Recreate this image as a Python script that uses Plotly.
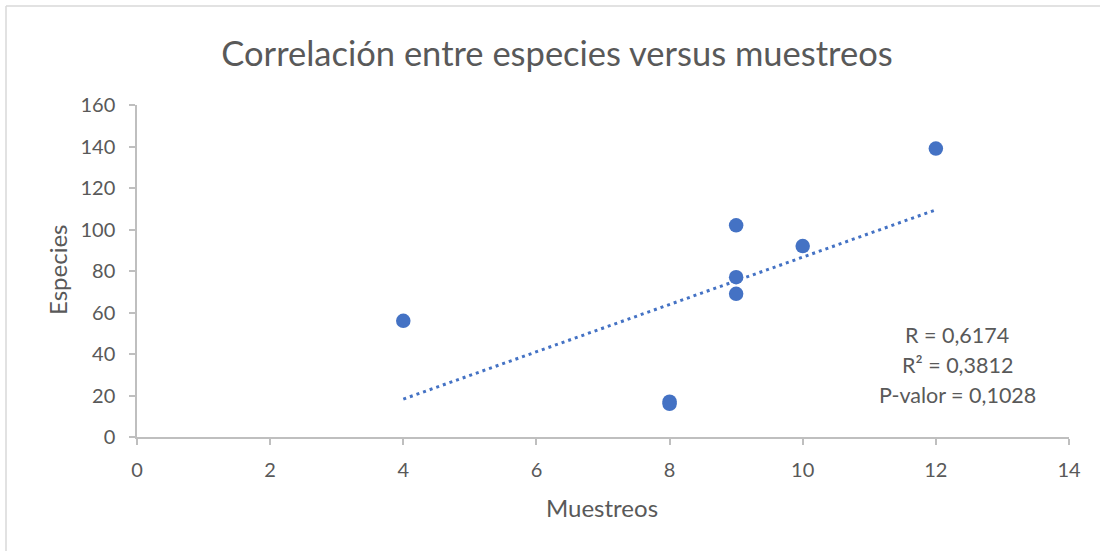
import numpy as np
import plotly.graph_objects as go

muestreos = [4, 8, 8, 9, 9, 9, 10, 12]
especies = [56, 17, 16, 102, 77, 69, 92, 139]
stats_lines = ["R = 0,6174", "R² = 0,3812", "P-valor = 0,1028"]
x_ticks = [0, 2, 4, 6, 8, 10, 12, 14]
y_ticks = [0, 20, 40, 60, 80, 100, 120, 140, 160]

# linear trendline (least squares) across the data range
slope, intercept = np.polyfit(muestreos, especies, 1)
tx = [min(muestreos), max(muestreos)]
ty = [slope * v + intercept for v in tx]

FONT = "Lato"
GRAY = "#595959"
AX = "#BFBFBF"
BLUE = "#4472C4"

W, H = 1100, 551
L, R, T, B = 137, 31, 105, 114
pw, ph = W - L - R, H - T - B

def px(xp):
    return (xp - L) / pw

def py(yp):
    return (H - B - yp) / ph

fig = go.Figure()
fig.add_trace(go.Scatter(
    x=tx, y=ty, mode="lines",
    line=dict(color=BLUE, width=3, dash="3px,4px"),
    hoverinfo="skip", showlegend=False,
))
fig.add_trace(go.Scatter(
    x=muestreos, y=especies, mode="markers",
    marker=dict(color=BLUE, size=14.5, line=dict(width=0)),
    showlegend=False,
))

annos = []
for i, t in enumerate(stats_lines):
    annos.append(dict(
        x=px(957), y=py(335 + 30 * i), xref="paper", yref="paper",
        text=t, showarrow=False, xanchor="center", yanchor="middle",
        font=dict(family=FONT, size=21.5, color=GRAY),
    ))
annos.append(dict(
    x=px(602), y=py(507), xref="paper", yref="paper", text="Muestreos",
    showarrow=False, xanchor="center", yanchor="middle",
    font=dict(family=FONT, size=24, color=GRAY),
))
annos.append(dict(
    x=px(57), y=py(270), xref="paper", yref="paper", text="Especies",
    showarrow=False, xanchor="center", yanchor="middle", textangle=-90,
    font=dict(family=FONT, size=24, color=GRAY),
))

fig.update_layout(
    width=W, height=H,
    margin=dict(l=L, r=R, t=T, b=B),
    paper_bgcolor="white", plot_bgcolor="white",
    font=dict(family=FONT, color=GRAY),
    title=dict(
        text="Correlación entre especies versus muestreos",
        xref="container", yref="container",
        x=557 / W, xanchor="center", y=1 - 54 / H, yanchor="middle",
        font=dict(family=FONT, size=34.5, color=GRAY),
    ),
    xaxis=dict(
        range=[0, 14], tickvals=x_ticks, ticktext=[str(v) for v in x_ticks],
        showgrid=False, zeroline=False, showline=True, linecolor=AX, linewidth=1.5,
        ticks="outside", ticklen=6, tickcolor=AX, tickwidth=1.5,
        ticklabelstandoff=8,
        tickfont=dict(family=FONT, size=20, color=GRAY),
    ),
    yaxis=dict(
        range=[0, 160], tickvals=y_ticks, ticktext=[str(v) for v in y_ticks],
        showgrid=False, zeroline=False, showline=True, linecolor=AX, linewidth=1.5,
        ticks="outside", ticklen=6, tickcolor=AX, tickwidth=1.5,
        ticklabelstandoff=10,
        tickfont=dict(family=FONT, size=20, color=GRAY),
    ),
    annotations=annos,
    shapes=[
        dict(type="line", xref="paper", yref="paper", x0=px(6), x1=px(6), y0=py(6), y1=py(H + 5),
             line=dict(color="#D9D9D9", width=1.5)),
        dict(type="line", xref="paper", yref="paper", x0=px(6), x1=px(W + 5), y0=py(6), y1=py(6),
             line=dict(color="#D9D9D9", width=1.5)),
    ],
)

fig.write_html("out.html", config={"displayModeBar": False},
               post_script="document.body.style.margin='0';")
